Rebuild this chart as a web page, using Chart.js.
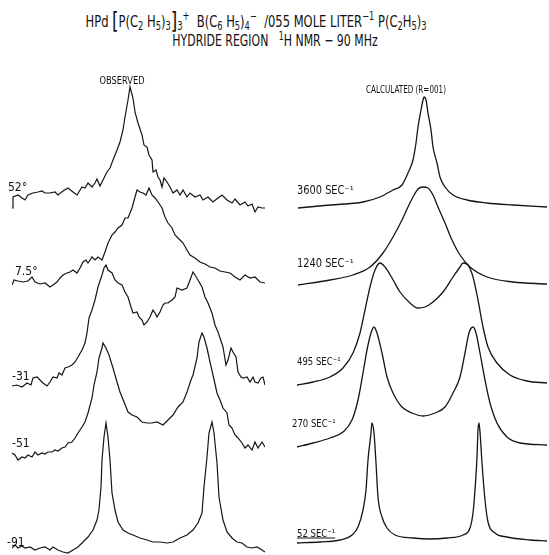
<!DOCTYPE html>
<html><head><meta charset="utf-8">
<script src="https://cdn.jsdelivr.net/npm/chart.js@4.4.1/dist/chart.umd.min.js"></script>
<style>
html,body{margin:0;padding:0;background:#fff;}
body{width:549px;height:555px;position:relative;overflow:hidden;font-family:"Liberation Sans Narrow","DejaVu Sans Condensed",sans-serif;color:#111;}
.t{position:absolute;white-space:nowrap;line-height:1;z-index:2;}
.t sub,.t sup{font-size:0.72em;line-height:0;}
.t sub{vertical-align:-0.3em;}
.t sup{vertical-align:0.55em;}
.br{font-size:1.45em;vertical-align:-0.12em;}
.panel{position:absolute;top:80px;height:475px;z-index:1;}
#left{left:12px;width:253px;}
#right{left:297px;width:252px;}
</style></head><body>
<div class="t" style="left:256px;top:21px;transform:translate(-50%,-50%) scaleX(0.8);font-size:16px;">HPd <span class="br">[</span>P(C<sub>2</sub> H<sub>5</sub>)<sub>3</sub><span class="br">]</span><sub>3</sub><sup>+</sup>&nbsp; B(C<sub>6</sub> H<sub>5</sub>)<sub>4</sub><sup>−</sup>&nbsp; /055 MOLE LITER<sup>−1</sup> P(C<sub>2</sub>H<sub>5</sub>)<sub>3</sub></div>
<div class="t" style="left:275px;top:41px;transform:translate(-50%,-50%) scaleX(0.76);font-size:16px;">HYDRIDE REGION &nbsp;&nbsp;<sup>1</sup>H NMR − 90 MHz</div>
<div class="t" style="left:122px;top:81px;transform:translate(-50%,-50%) scaleX(0.92);font-size:10px;">OBSERVED</div>
<div class="t" style="left:406px;top:90px;transform:translate(-50%,-50%) scaleX(0.8);font-size:10px;">CALCULATED (R=001)</div>
<div id="labels"></div>
<div class="panel" id="left"><canvas id="cObs" width="253" height="475"></canvas></div>
<div class="panel" id="right"><canvas id="cCalc" width="252" height="475"></canvas></div>
<script>
// ---------- DATA (x = relative frequency, y = signal intensity above each trace's baseline) ----------
const obsLabels = ['52°', '7.5°', '-31', '-51', '-91'];
const calcLabels = ['3600 SEC⁻¹', '1240 SEC⁻¹', '495 SEC⁻¹', '270 SEC⁻¹', '52 SEC⁻¹'];

const obs52 = [[0,0],[1,11],[6,13],[10,10],[13,8],[16,13],[21,15],[26,16],[30,17],[33,15],[38,15],[43,16],[46,13],[51,17],[56,20],[61,16],[65,13],[70,21],[73,20],[76,25],[80,21],[83,25],[85,29],[88,22],[91,28],[95,36],[98,40],[101,48],[105,58],[108,66],[111,78],[113,91],[116,108],[118,121],[121,110],[123,96],[126,85],[130,73],[132,63],[135,61],[137,53],[140,48],[141,36],[144,38],[146,31],[148,28],[150,21],[152,30],[155,26],[158,21],[161,15],[165,18],[168,13],[171,18],[175,11],[178,15],[183,11],[188,13],[191,8],[196,11],[201,6],[206,10],[210,13],[215,8],[220,5],[223,9],[228,3],[233,6],[236,2],[240,4],[243,-4],[246,1],[250,0],[253,0]];
const obs75 = [[0,0],[2,5],[6,4],[11,3],[16,4],[20,8],[23,3],[28,1],[33,2],[38,-2],[41,0],[45,3],[48,7],[51,10],[55,12],[58,13],[61,15],[65,12],[68,17],[71,23],[74,25],[76,22],[80,28],[83,25],[86,28],[90,25],[93,33],[96,42],[100,50],[103,53],[106,57],[110,60],[113,67],[116,67],[120,77],[123,88],[125,95],[128,93],[131,92],[134,90],[137,97],[140,90],[143,87],[146,83],[150,77],[153,68],[156,62],[160,57],[163,50],[168,45],[171,42],[175,35],[178,30],[183,27],[188,23],[193,21],[198,18],[203,17],[208,14],[213,13],[218,12],[223,8],[228,5],[233,10],[238,7],[243,8],[248,3],[253,2]];
const obsM31 = [[0,0],[5,1],[10,-1],[15,3],[19,1],[21,8],[25,9],[28,6],[31,3],[35,0],[38,4],[41,9],[45,8],[47,13],[50,11],[53,18],[56,19],[60,21],[63,24],[66,29],[70,36],[73,43],[75,53],[77,68],[80,76],[83,86],[86,99],[90,111],[92,118],[94,121],[96,116],[100,113],[103,106],[106,103],[110,101],[113,94],[116,89],[119,79],[121,73],[125,74],[127,69],[130,66],[132,61],[135,64],[138,69],[141,76],[143,73],[145,69],[148,74],[151,81],[153,83],[156,83],[160,86],[163,89],[165,98],[170,96],[175,98],[178,106],[181,114],[183,111],[186,106],[190,99],[193,89],[196,83],[200,73],[203,61],[206,54],[208,48],[211,39],[214,21],[216,26],[219,38],[221,34],[224,29],[226,14],[229,9],[231,8],[235,9],[238,4],[241,9],[243,4],[246,3],[249,8],[251,9],[253,1]];
const obsM51 = [[0,2],[3,0],[6,-5],[10,-2],[13,-3],[16,0],[20,-2],[23,3],[26,0],[30,2],[33,1],[36,3],[40,3],[43,5],[46,4],[50,7],[53,8],[56,12],[60,13],[63,17],[66,22],[70,28],[73,33],[76,42],[80,57],[82,70],[85,83],[87,97],[90,107],[91,112],[94,107],[97,100],[101,87],[105,73],[108,63],[112,53],[116,43],[120,40],[125,38],[130,33],[135,32],[140,32],[145,33],[151,30],[156,35],[161,40],[166,48],[171,53],[175,63],[179,75],[181,80],[185,97],[187,113],[190,122],[192,118],[195,107],[198,93],[201,80],[205,62],[208,55],[211,47],[215,42],[217,30],[220,27],[223,20],[226,17],[230,12],[233,7],[236,10],[240,5],[243,13],[246,7],[250,13],[253,8]];
const obsM91 = [[0,2],[3,5],[6,2],[10,4],[13,2],[18,3],[23,0],[28,2],[33,3],[38,0],[41,3],[46,0],[51,-2],[56,-3],[61,0],[66,3],[71,8],[76,13],[81,20],[85,30],[87,40],[89,63],[90,90],[92,113],[94,127],[96,113],[98,90],[100,57],[103,40],[106,28],[111,20],[116,17],[121,15],[128,12],[135,10],[141,8],[148,8],[155,7],[161,8],[168,12],[175,15],[181,20],[186,27],[190,37],[192,63],[195,93],[197,117],[200,128],[202,117],[205,87],[207,53],[211,30],[215,18],[220,12],[225,8],[230,7],[235,3],[240,2],[245,3],[250,0],[253,-2]];

const calc3600 = [[1,0],[33,3],[66,6],[83,11],[96,18],[105,23],[111,35],[116,48],[119,65],[121,81],[124,98],[126,108],[127,111],[129,108],[131,95],[134,78],[136,61],[140,45],[143,31],[148,21],[156,13],[170,8],[190,5],[216,3],[250,1]];
const calc1240 = [[1,0],[33,5],[56,10],[73,18],[86,32],[96,48],[105,65],[111,78],[116,88],[121,96],[126,98],[131,97],[136,90],[141,78],[148,62],[155,45],[163,30],[173,18],[190,8],[216,3],[250,1]];
const calc495 = [[0,0],[16,3],[33,8],[46,17],[56,32],[63,52],[68,75],[73,98],[78,115],[83,122],[88,118],[95,107],[103,93],[113,82],[121,77],[128,78],[136,83],[146,93],[156,108],[163,118],[166,122],[171,120],[176,108],[181,85],[186,58],[191,38],[200,22],[213,10],[230,4],[250,2]];
const calc270 = [[0,0],[16,4],[33,9],[46,15],[55,27],[61,47],[66,74],[70,97],[74,114],[77,120],[80,114],[85,94],[90,70],[96,54],[105,40],[115,34],[126,31],[138,34],[148,40],[156,54],[163,70],[168,94],[172,114],[176,120],[179,114],[183,94],[188,67],[193,44],[200,24],[210,10],[223,4],[250,2]];
const calc52 = [[0,0],[23,1],[43,3],[55,8],[61,16],[66,33],[69,53],[71,83],[74,110],[75,120],[77,110],[79,80],[81,46],[85,26],[90,15],[98,8],[116,5],[133,4],[150,5],[166,8],[173,15],[176,30],[178,53],[180,86],[181,113],[182,120],[183,111],[185,80],[188,43],[191,21],[198,10],[210,6],[233,3],[250,2]];

// stacking offsets of each trace's baseline (same intensity units)
const obsOffsets = [347, 270, 169, 100, 5];
const calcOffsets = [347, 270, 170, 108, 12];

// ---------- LAYOUT ----------
const obsSeries = [obs52, obs75, obsM31, obsM51, obsM91];
const calcSeries = [calc3600, calc1240, calc495, calc270, calc52];
const obsLabelPos = [[8,187,12,1],[15,271,12,1],[12,376,12,1],[12,443,12,1],[7,542,12,1]];
const calcLabelPos = [[297,191,11.5,0.95],[297,264,11.5,0.95],[297,361,11,0.86],[292,423,11,0.86],[297,533,11,0.86]];

const lab = document.getElementById('labels');
function addLabel(text, p, underline){
  const d = document.createElement('div');
  d.className = 't';
  d.style.left = p[0] + 'px';
  d.style.top = p[1] + 'px';
  d.style.fontSize = p[2] + 'px';
  d.style.transformOrigin = '0 50%';
  d.style.transform = 'translateY(-50%) scaleX(' + p[3] + ')';
  if (underline) d.style.textDecoration = 'underline';
  d.textContent = text;
  lab.appendChild(d);
}
obsLabels.forEach((t,i)=>addLabel(t, obsLabelPos[i], false));
calcLabels.forEach((t,i)=>addLabel(t, calcLabelPos[i], i === calcLabels.length-1));

function makeChart(id, series, offsets, names, xmax, smooth){
  new Chart(document.getElementById(id), {
    type: 'scatter',
    data: {
      datasets: series.map((s,i)=>({
        label: names[i],
        data: s.map(([x,v])=>({x:x, y:v + offsets[i]})),
        showLine: true,
        borderColor: '#151515',
        borderWidth: smooth ? 1.3 : 1.2,
        pointRadius: 0,
        cubicInterpolationMode: smooth ? 'monotone' : 'default',
        tension: 0,
        clip: false
      }))
    },
    options: {
      responsive: false,
      animation: false,
      layout: {padding: 0},
      plugins: {legend: {display: false}, tooltip: {enabled: false}},
      scales: {
        x: {type: 'linear', display: false, min: 0, max: xmax},
        y: {type: 'linear', display: false, min: 0, max: 475}
      }
    }
  });
}
makeChart('cObs', obsSeries, obsOffsets, obsLabels, 253, false);
makeChart('cCalc', calcSeries, calcOffsets, calcLabels, 252, true);
</script>
</body></html>
